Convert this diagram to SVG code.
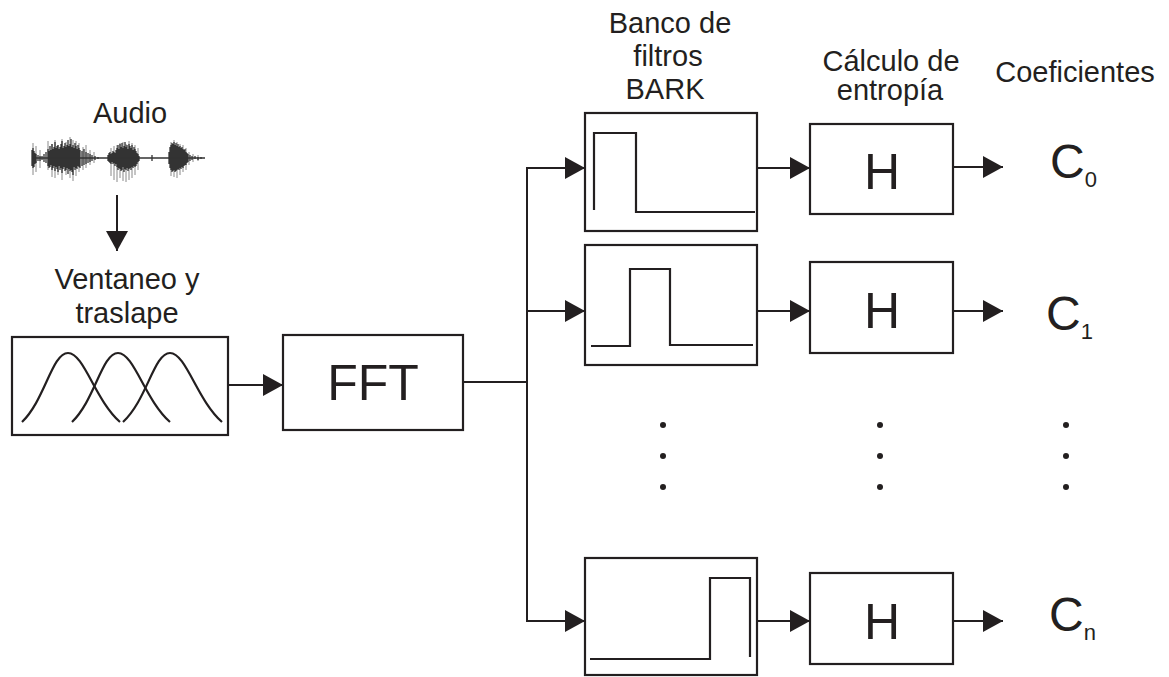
<svg xmlns="http://www.w3.org/2000/svg" width="1169" height="677" viewBox="0 0 1169 677">
<style>
text{font-family:"Liberation Sans",Arial,sans-serif;fill:#231f20}
.lbl{font-size:29px;text-anchor:middle}
.box{fill:#fff;stroke:#231f20;stroke-width:2.2}
.sig{fill:none;stroke:#231f20;stroke-width:2.2}
.con{fill:none;stroke:#231f20;stroke-width:2}
.big{font-size:50px;text-anchor:middle}
.c{font-size:48px}
.sub{font-size:22px}
.dot{fill:#231f20}
.spk{stroke:#8a8a8a;stroke-width:1;fill:none}
.spkd{stroke:#333;stroke-width:1.3;fill:none}
</style>
<defs>
<marker id="ah" markerUnits="userSpaceOnUse" markerWidth="20" markerHeight="22" refX="20" refY="11" orient="auto">
<path d="M0,0 L20,11 L0,22 Z" fill="#231f20"/>
</marker>
</defs>
<rect width="1169" height="677" fill="#fff"/>

<g id="audio">
<text class="lbl" x="130" y="123">Audio</text>
<g id="waveform">
<path class="spk" d="M33,143V175M36,146V172M40,150V168M48,141V170M52,144V177M55,140V178M58,145V175M62,139V180M66,142V175M70,137V178M73,140V181M76,141V176M79,143V172M83,147V170M86,145V168M90,150V165M94,152V163M111,148V176M114,146V180M117,145V182M120,143V178M123,142V181M126,144V182M129,141V180M132,143V178M135,145V175M138,148V170M171,142V176M174,140V177M177,142V178M180,144V175M183,145V172M186,148V170M189,152V165M193,154V162M198,155V161"/>
<path class="spkd" d="M32,150V166M33,148V168M34,151V167M35,153V164M36,154V163M38,155V161M40,156V161M42,156V160M44,154V162M46,152V163M48,149V166M49,151V168M50,146V167M51,150V165M52,144V170M53,149V168M54,147V166M55,142V171M56,148V167M57,146V169M58,145V172M59,149V166M60,147V170M61,144V168M62,141V173M63,148V169M64,146V167M65,143V171M66,147V170M67,145V168M68,140V174M69,146V169M70,144V171M71,139V170M72,147V172M73,145V175M74,148V167M75,143V170M76,146V168M77,149V169M78,145V166M79,148V167M80,150V168M82,151V166M84,149V165M86,152V164M88,153V163M90,154V162M92,155V161M95,156V160M98,157V159"/>
<path class="spkd" d="M108,155V161M109,153V162M110,152V163M111,154V164M112,153V162M113,151V164M114,152V163M115,153V166M116,150V164M117,148V167M118,145V170M119,149V168M120,144V169M121,147V171M122,143V170M123,148V167M124,146V172M125,142V169M126,147V170M127,145V168M128,149V171M129,144V169M130,146V168M131,148V170M132,145V167M133,150V168M134,147V166M135,149V167M136,151V166M137,153V164M138,154V162M139,156V161"/>
<path class="spkd" d="M169,152V164M170,147V168M171,145V170M172,143V172M173,144V171M174,142V170M175,145V172M176,143V171M177,146V170M178,144V169M179,147V170M180,146V168M181,148V169M182,147V167M183,149V168M184,150V166M185,149V165M186,152V165M187,153V163M188,154V162M190,155V161M192,156V160M195,156V159M198,157V160M201,157V159"/>
<path d="M32,158H205M152,155V161" stroke="#333" stroke-width="1.3" fill="none"/>
</g>
</g>

<g id="ventaneo">
<text class="lbl" x="127" y="289">Ventaneo y</text>
<text class="lbl" x="127" y="323">traslape</text>
<rect class="box" x="12" y="337" width="216" height="98"/>
<path class="sig" d="M22,422 C45,400 52,353 68,353 C84,353 95,400 120,422"/>
<path class="sig" d="M72,422 C95,400 102,353 118,353 C134,353 145,400 170,422"/>
<path class="sig" d="M123,422 C147,400 154,353 170,353 C186,353 197,400 222,422"/>
</g>

<g id="fft">
<rect class="box" x="283" y="335" width="180" height="95"/>
<text class="big" x="373" y="400">FFT</text>
</g>

<g id="banco-label">
<text class="lbl" x="670" y="33">Banco de</text>
<text class="lbl" x="668" y="66">filtros</text>
<text class="lbl" x="665" y="99">BARK</text>
</g>

<g id="filtro0">
<rect class="box" x="585" y="113" width="172" height="118"/>
<path class="sig" d="M594,210V133H636V212H755"/>
</g>
<g id="filtro1">
<rect class="box" x="585" y="245" width="172" height="120"/>
<path class="sig" d="M591,346H630V269H670V345H753"/>
</g>
<g id="filtroN">
<rect class="box" x="585" y="558" width="172" height="117"/>
<path class="sig" d="M590,659H710V578H750V657"/>
</g>

<g id="entropia-label">
<text class="lbl" x="891" y="71">Cálculo de</text>
<text class="lbl" x="890" y="100">entropía</text>
</g>

<g id="h0">
<rect class="box" x="810" y="124" width="143" height="90"/>
<text class="big" x="882" y="189">H</text>
</g>
<g id="h1">
<rect class="box" x="810" y="262" width="143" height="91"/>
<text class="big" x="882" y="328">H</text>
</g>
<g id="hN">
<rect class="box" x="810" y="573" width="143" height="91"/>
<text class="big" x="882" y="639">H</text>
</g>

<g id="coef-label">
<text class="lbl" x="1075" y="82">Coeficientes</text>
</g>
<g id="c0"><text x="1050" y="178"><tspan class="c">C</tspan><tspan class="sub" dy="9">0</tspan></text></g>
<g id="c1"><text x="1046" y="330"><tspan class="c">C</tspan><tspan class="sub" dy="9">1</tspan></text></g>
<g id="cN"><text x="1049" y="631"><tspan class="c">C</tspan><tspan class="sub" dy="9">n</tspan></text></g>

<g id="dots">
<circle class="dot" cx="663" cy="425" r="3"/><circle class="dot" cx="663" cy="456" r="3"/><circle class="dot" cx="663" cy="487" r="3"/>
<circle class="dot" cx="880" cy="425" r="3"/><circle class="dot" cx="880" cy="456" r="3"/><circle class="dot" cx="880" cy="487" r="3"/>
<circle class="dot" cx="1066" cy="425" r="3"/><circle class="dot" cx="1066" cy="456" r="3"/><circle class="dot" cx="1066" cy="487" r="3"/>
</g>

<g id="connectors">
<path class="con" d="M117,195V251" marker-end="url(#ah)"/>
<path class="con" d="M228,385H283" marker-end="url(#ah)"/>
<path class="con" d="M463,382H527"/>
<path class="con" d="M527,167V622"/>
<path class="con" d="M526,168H585" marker-end="url(#ah)"/>
<path class="con" d="M526,311H585" marker-end="url(#ah)"/>
<path class="con" d="M526,621H585" marker-end="url(#ah)"/>
<path class="con" d="M757,168H810" marker-end="url(#ah)"/>
<path class="con" d="M757,311H810" marker-end="url(#ah)"/>
<path class="con" d="M757,621H810" marker-end="url(#ah)"/>
<path class="con" d="M953,167H1003" marker-end="url(#ah)"/>
<path class="con" d="M953,311H1003" marker-end="url(#ah)"/>
<path class="con" d="M953,621H1003" marker-end="url(#ah)"/>
</g>
</svg>
